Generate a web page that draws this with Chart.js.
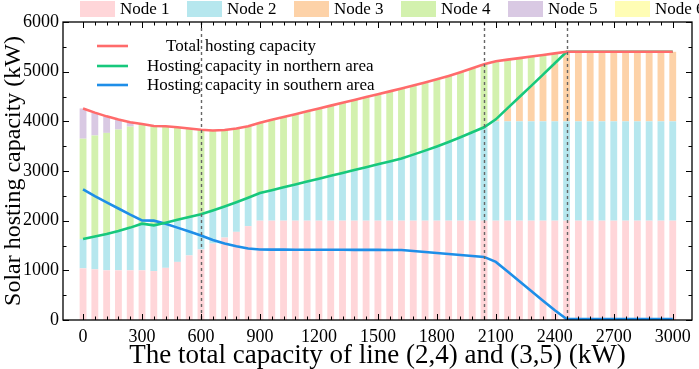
<!DOCTYPE html>
<html>
<head>
<meta charset="utf-8">
<script src="https://cdn.jsdelivr.net/npm/chart.js@4.4.0/dist/chart.umd.min.js"></script>
<style>
  html, body { margin: 0; padding: 0; background: #fff; }
  #wrap { width: 699px; height: 369px; }
</style>
</head>
<body>
<div id="wrap"><canvas id="chart" width="699" height="369"></canvas></div>
<script>
// total capacity of line (2,4) and (3,5), kW
const lineCapacity = [0, 60, 120, 180, 240, 300, 360, 420, 480, 540, 600, 660, 720, 780, 840, 900, 960, 1020, 1080, 1140,
  1200, 1260, 1320, 1380, 1440, 1500, 1560, 1620, 1680, 1740, 1800, 1860, 1920, 1980, 2040, 2100, 2160, 2220, 2280, 2340,
  2400, 2460, 2520, 2580, 2640, 2700, 2760, 2820, 2880, 2940, 3000];

// hosting capacity per node (kW)
const node1 = [1040, 1020, 1000, 1000, 1000, 1000, 985, 1050, 1170, 1300, 1420, 1540, 1660, 1775, 1890, 2000, 2000, 2000, 2000, 2000,
  2000, 2000, 2000, 2000, 2000, 2000, 2000, 2000, 2000, 2000, 2000, 2000, 2000, 2000, 2000, 2000, 2000, 2000, 2000, 2000,
  2000, 2000, 2000, 2000, 2000, 2000, 2000, 2000, 2000, 2000, 2000];
const node2 = [590, 660, 730, 790, 860, 940, 920, 910, 850, 775, 710, 665, 625, 595, 570, 555, 613, 671, 729, 787,
  845, 903, 961, 1019, 1077, 1135, 1193, 1250, 1330, 1410, 1495, 1585, 1680, 1780, 1880, 2000, 2000, 2000, 2000, 2000,
  2000, 2000, 2000, 2000, 2000, 2000, 2000, 2000, 2000, 2000, 2000];
const node3 = [0, 0, 0, 0, 0, 0, 0, 0, 0, 0, 0, 0, 0, 0, 0, 0, 0, 0, 0, 0,
  0, 0, 0, 0, 0, 0, 0, 0, 0, 0, 0, 0, 0, 0, 0, 40, 265, 490, 715, 940,
  1170, 1400, 1400, 1400, 1400, 1400, 1400, 1400, 1400, 1400, 1400];
const node4 = [2020, 2035, 2037, 2045, 2034, 2005, 2000, 1940, 1860, 1780, 1700, 1610, 1540, 1485, 1440, 1418, 1417, 1416, 1415, 1415,
  1414, 1413, 1413, 1412, 1412, 1411, 1410, 1410, 1390, 1370, 1350, 1330, 1310, 1290, 1270, 1170, 975, 780, 585, 390,
  195, 0, 0, 0, 0, 0, 0, 0, 0, 0, 0];
const node5 = [610, 460, 333, 200, 86, 0, 0, 0, 0, 0, 0, 0, 0, 0, 0, 0, 0, 0, 0, 0,
  0, 0, 0, 0, 0, 0, 0, 0, 0, 0, 0, 0, 0, 0, 0, 0, 0, 0, 0, 0,
  0, 0, 0, 0, 0, 0, 0, 0, 0, 0, 0];
const node6 = [0, 0, 0, 0, 0, 0, 0, 0, 0, 0, 0, 0, 0, 0, 0, 0, 0, 0, 0, 0,
  0, 0, 0, 0, 0, 0, 0, 0, 0, 0, 0, 0, 0, 0, 0, 0, 0, 0, 0, 0,
  0, 0, 0, 0, 0, 0, 0, 0, 0, 0, 0];

// hosting capacity lines (kW)
const totalHosting = [4260, 4175, 4100, 4035, 3980, 3945, 3905, 3900, 3880, 3855, 3830, 3815, 3825, 3855, 3900, 3973, 4030, 4087, 4144, 4202,
  4259, 4316, 4374, 4431, 4489, 4546, 4603, 4660, 4720, 4780, 4845, 4915, 4990, 5070, 5150, 5210, 5242, 5273, 5305, 5337,
  5368, 5400, 5400, 5400, 5400, 5400, 5400, 5400, 5400, 5400, 5400];
const northHosting = [1630, 1680, 1730, 1790, 1860, 1940, 1905, 1960, 2020, 2075, 2130, 2205, 2285, 2370, 2460, 2555, 2613, 2671, 2729, 2787,
  2845, 2903, 2961, 3019, 3077, 3135, 3193, 3250, 3330, 3410, 3495, 3585, 3680, 3780, 3880, 4040, 4265, 4490, 4715, 4940,
  5170, 5400, 5400, 5400, 5400, 5400, 5400, 5400, 5400, 5400, 5400];
const southHosting = [2630, 2495, 2370, 2245, 2120, 2005, 2000, 1940, 1860, 1780, 1700, 1610, 1540, 1485, 1440, 1418, 1417, 1416, 1415, 1415,
  1414, 1413, 1413, 1412, 1412, 1411, 1410, 1410, 1390, 1370, 1350, 1330, 1310, 1290, 1270, 1170, 975, 780, 585, 390,
  195, 20, 20, 20, 20, 20, 20, 20, 20, 20, 20];

const nodeNames = ['Node 1', 'Node 2', 'Node 3', 'Node 4', 'Node 5', 'Node 6'];
const nodeColors = ['#FFD6D9', '#B6E7EE', '#FDD2A8', '#D3F1AE', '#D9C9E3', '#FFFDB5'];
const lineNames = ['Total hosting capacity', 'Hosting capacity in northern area', 'Hosting capacity in southern area'];
const lineColors = ['#FF6B6B', '#17C87C', '#1E8EE8'];

const xTicks = [0, 300, 600, 900, 1200, 1500, 1800, 2100, 2400, 2700, 3000];
const yTicks = [0, 1000, 2000, 3000, 4000, 5000, 6000];
const markers = [600, 2040, 2460];

const serif = "'Liberation Serif', 'Times New Roman', serif";
Chart.defaults.font.family = serif;
Chart.defaults.color = '#000';

const nodeSeries = [node1, node2, node3, node4, node5, node6];
const lineSeries = [totalHosting, northHosting, southHosting];

const datasets = [];
nodeSeries.forEach((d, i) => {
  datasets.push({
    type: 'bar', label: nodeNames[i], data: d, backgroundColor: nodeColors[i],
    borderWidth: 0, stack: 'nodes', order: 1, barPercentage: 0.58, categoryPercentage: 1
  });
});
lineSeries.forEach((d, i) => {
  datasets.push({
    type: 'line', label: lineNames[i], data: d, borderColor: lineColors[i], backgroundColor: lineColors[i],
    borderWidth: 2.6, pointRadius: 0, tension: 0, fill: false, stack: 'line' + i, order: 0
  });
});

const decor = {
  id: 'decor',
  afterDatasetsDraw(chart) {
    const { ctx, chartArea: a, scales: { x } } = chart;
    ctx.save();
    ctx.strokeStyle = '#666';
    ctx.lineWidth = 1.4;
    ctx.setLineDash([3, 3]);
    markers.forEach(v => {
      const px = Math.round(x.getPixelForValue(v)) + 0.5;
      ctx.beginPath(); ctx.moveTo(px, a.top); ctx.lineTo(px, a.bottom); ctx.stroke();
    });
    ctx.restore();
  },
  afterDraw(chart) {
    const { ctx, chartArea: a, scales: { x, y } } = chart;
    ctx.save();
    ctx.strokeStyle = '#000';
    ctx.lineWidth = 1.3;
    ctx.strokeRect(a.left, a.top, a.right - a.left, a.bottom - a.top);
    // inward ticks
    ctx.lineWidth = 1;
    ctx.beginPath();
    lineCapacity.forEach(v => {
      const px = Math.round(x.getPixelForValue(v)) + 0.5;
      const len = xTicks.includes(v) ? 6 : 3.5;
      ctx.moveTo(px, a.bottom); ctx.lineTo(px, a.bottom - len);
      ctx.moveTo(px, a.top); ctx.lineTo(px, a.top + len);
    });
    yTicks.forEach((v, i) => {
      const py = Math.round(y.getPixelForValue(v)) + 0.5;
      ctx.moveTo(a.left, py); ctx.lineTo(a.left + 6, py);
      ctx.moveTo(a.right, py); ctx.lineTo(a.right - 6, py);
      if (i < yTicks.length - 1) {
        const pm = Math.round(y.getPixelForValue((v + yTicks[i + 1]) / 2)) + 0.5;
        ctx.moveTo(a.left, pm); ctx.lineTo(a.left + 3.5, pm);
        ctx.moveTo(a.right, pm); ctx.lineTo(a.right - 3.5, pm);
      }
    });
    ctx.stroke();

    // line legend inside the plot
    const rows = [46, 66, 85];
    const textX = [166, 147, 147];
    ctx.font = '17px ' + serif;
    ctx.textBaseline = 'middle';
    ctx.fillStyle = '#000';
    lineNames.forEach((name, i) => {
      ctx.strokeStyle = lineColors[i];
      ctx.lineWidth = 2.6;
      ctx.beginPath(); ctx.moveTo(97, rows[i]); ctx.lineTo(128, rows[i]); ctx.stroke();
      ctx.fillText(name, textX[i], rows[i] + 1);
    });

    // node legend along the top
    nodeNames.forEach((name, i) => {
      const bx = 80 + 107 * i;
      ctx.fillStyle = nodeColors[i];
      ctx.fillRect(bx, 1, 35, 16);
      ctx.fillStyle = '#000';
      ctx.fillText(name, bx + 40, 10);
    });
    ctx.restore();
  }
};

new Chart(document.getElementById('chart'), {
  data: { labels: lineCapacity, datasets },
  options: {
    responsive: false,
    animation: false,
    layout: { padding: { top: 22, right: 7, left: 0, bottom: 0 } },
    plugins: { legend: { display: false }, tooltip: { enabled: false } },
    scales: {
      x: {
        type: 'linear', stacked: true, offset: false, min: -102, max: 3098,
        afterBuildTicks: s => { s.ticks = xTicks.map(v => ({ value: v })); },
        afterFit: s => { s.height = 49; },
        grid: { display: false, drawTicks: false },
        border: { display: false },
        ticks: { font: { size: 18 }, padding: 6, maxRotation: 0, autoSkip: false, callback: v => String(v) },
        title: { display: true, text: 'The total capacity of line (2,4) and (3,5) (kW)', font: { size: 27, lineHeight: 1 }, padding: { top: 0, bottom: 0 } }
      },
      y: {
        stacked: true, min: 0, max: 6000,
        afterBuildTicks: s => { s.ticks = yTicks.map(v => ({ value: v })); },
        afterFit: s => { s.width = 63; },
        grid: { display: false, drawTicks: false },
        border: { display: false },
        ticks: { font: { size: 18 }, padding: 4, callback: v => String(v) },
        title: { display: true, text: 'Solar hosting capacity (kW)', font: { size: 24, lineHeight: 1 }, padding: { top: 2, bottom: 0 } }
      }
    }
  },
  plugins: [decor]
});
</script>
</body>
</html>
